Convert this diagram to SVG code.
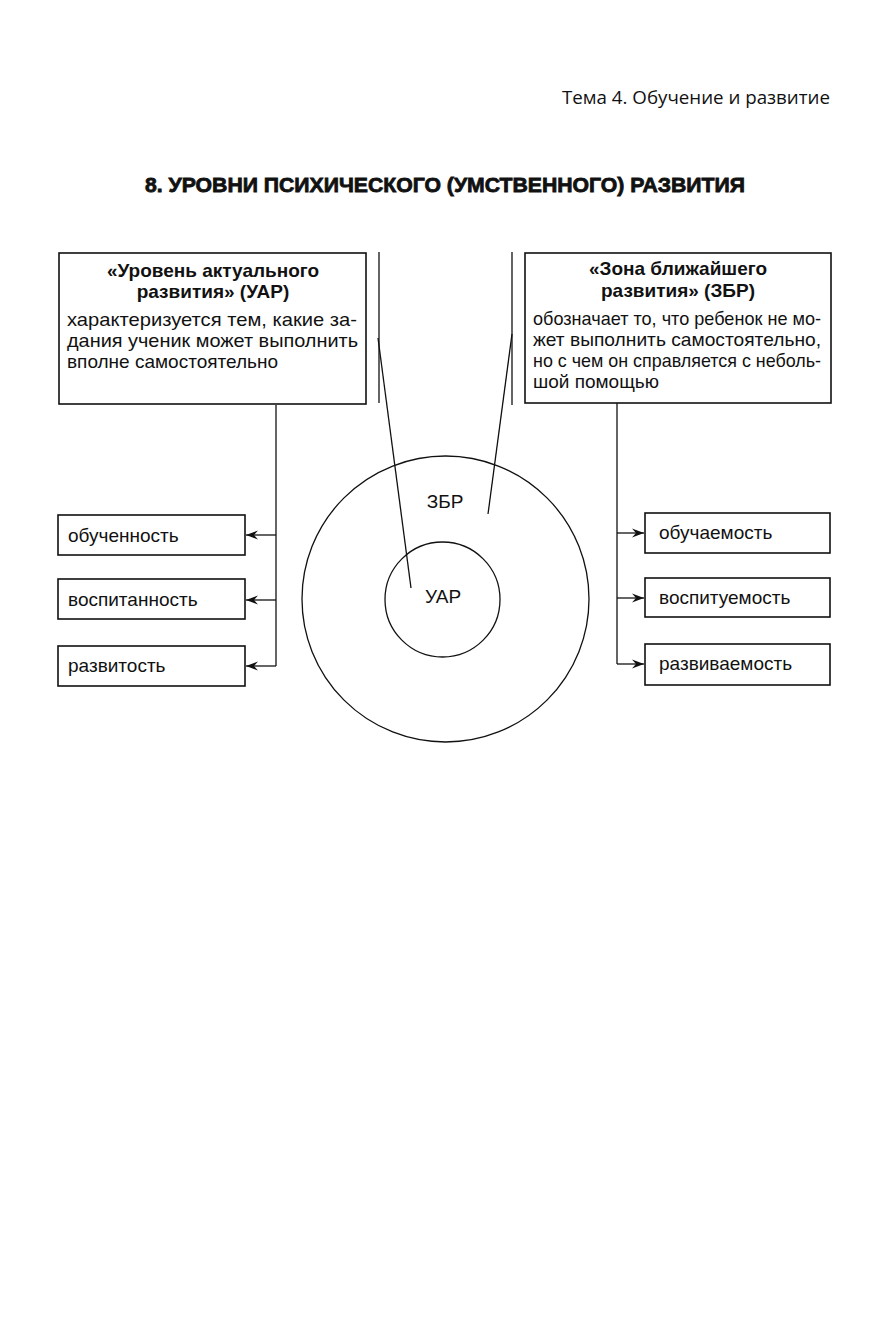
<svg xmlns="http://www.w3.org/2000/svg" width="896" height="1340" viewBox="0 0 896 1340">
<defs>
<style>
.t{font-family:"Liberation Sans",Arial,sans-serif;font-size:19px;fill:#111}
.b{font-weight:bold}
.box{fill:#fff;stroke:#111;stroke-width:1.6}
.ln{fill:none;stroke:#111;stroke-width:1.3}
</style>
<marker id="ah" viewBox="0 0 12 10" refX="12" refY="5" markerWidth="12" markerHeight="10" markerUnits="userSpaceOnUse" orient="auto">
<path d="M0,0.5 L12,5 L0,9.5 L4,5 Z" fill="#111"/>
</marker>
</defs>
<rect width="896" height="1340" fill="#fff"/>
<text x="830" y="104" text-anchor="end" font-family="Open Sans,Liberation Sans,sans-serif" font-size="19" textLength="268" lengthAdjust="spacingAndGlyphs" fill="#111">Тема 4. Обучение и развитие</text>
<text x="445" y="192" text-anchor="middle" font-family="Liberation Sans,Arial,sans-serif" font-weight="900" font-size="21" textLength="600" lengthAdjust="spacingAndGlyphs" fill="#111" stroke="#111" stroke-width="0.8">8. УРОВНИ ПСИХИЧЕСКОГО (УМСТВЕННОГО) РАЗВИТИЯ</text>

<g id="connectors">
<line class="ln" x1="379" y1="252" x2="379" y2="403"/>
<line class="ln" x1="512" y1="252" x2="512" y2="405"/>
<line class="ln" x1="378" y1="338" x2="411" y2="588"/>
<line class="ln" x1="512" y1="334" x2="488" y2="514"/>
<polyline class="ln" points="276,405 276,666"/>
<line class="ln" x1="276" y1="535" x2="246" y2="535" marker-end="url(#ah)"/>
<line class="ln" x1="276" y1="600" x2="246" y2="600" marker-end="url(#ah)"/>
<line class="ln" x1="276" y1="666" x2="246" y2="666" marker-end="url(#ah)"/>
<polyline class="ln" points="617,403 617,664"/>
<line class="ln" x1="617" y1="533" x2="644" y2="533" marker-end="url(#ah)"/>
<line class="ln" x1="617" y1="598" x2="644" y2="598" marker-end="url(#ah)"/>
<line class="ln" x1="617" y1="664" x2="644" y2="664" marker-end="url(#ah)"/>
</g>

<g id="circles">
<ellipse cx="445.5" cy="599" rx="143.5" ry="143" fill="none" stroke="#111" stroke-width="1.3"/>
<circle cx="442.5" cy="599.5" r="57.5" fill="none" stroke="#111" stroke-width="1.3"/>
<text class="t" x="445" y="508" text-anchor="middle">ЗБР</text>
<text class="t" x="443" y="603" text-anchor="middle">УАР</text>
</g>

<g id="uar">
<rect class="box" x="59" y="253" width="307" height="151"/>
<text class="t b" x="213" y="277" text-anchor="middle">«Уровень актуального</text>
<text class="t b" x="213" y="298" text-anchor="middle">развития» (УАР)</text>
<text class="t" x="67" y="326" textLength="290" lengthAdjust="spacingAndGlyphs">характеризуется тем, какие за-</text>
<text class="t" x="67" y="347" textLength="291" lengthAdjust="spacingAndGlyphs">дания ученик может выполнить</text>
<text class="t" x="67" y="368">вполне самостоятельно</text>
</g>

<g id="zbr">
<rect class="box" x="525" y="253" width="306" height="150"/>
<text class="t b" x="678" y="275" text-anchor="middle">«Зона ближайшего</text>
<text class="t b" x="678" y="297" text-anchor="middle">развития» (ЗБР)</text>
<text class="t" x="533" y="325" textLength="288" lengthAdjust="spacingAndGlyphs">обозначает то, что ребенок не мо-</text>
<text class="t" x="533" y="346" textLength="288" lengthAdjust="spacingAndGlyphs">жет выполнить самостоятельно,</text>
<text class="t" x="533" y="367" textLength="288" lengthAdjust="spacingAndGlyphs">но с чем он справляется с неболь-</text>
<text class="t" x="533" y="388">шой помощью</text>
</g>

<g id="obuchennost"><rect class="box" x="58" y="515" width="187" height="40"/><text class="t" x="68" y="542">обученность</text></g>
<g id="vospitannost"><rect class="box" x="58" y="579" width="187" height="40"/><text class="t" x="68" y="606">воспитанность</text></g>
<g id="razvitost"><rect class="box" x="58" y="646" width="187" height="40"/><text class="t" x="68" y="672">развитость</text></g>

<g id="obuchaemost"><rect class="box" x="645" y="513" width="185" height="40"/><text class="t" x="659" y="539">обучаемость</text></g>
<g id="vospituemost"><rect class="box" x="645" y="578" width="185" height="39"/><text class="t" x="659" y="604">воспитуемость</text></g>
<g id="razvivaemost"><rect class="box" x="645" y="644" width="185" height="41"/><text class="t" x="659" y="670">развиваемость</text></g>
</svg>
